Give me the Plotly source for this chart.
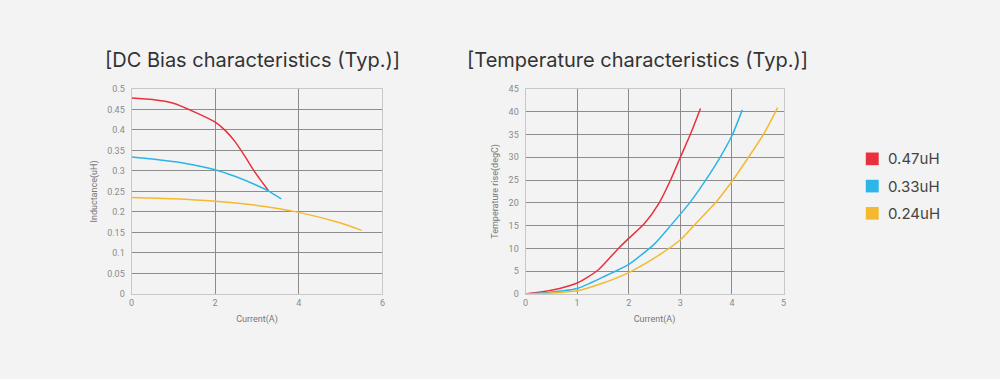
import plotly.graph_objects as go

# ---- data ----
names = ["0.47uH", "0.33uH", "0.24uH"]
colors = ["#e8313b", "#2bb5e8", "#f5b930"]

dc_x_047 = [0, 0.5, 1.0, 1.5, 2.0, 2.24, 2.47, 2.71, 2.95, 3.28]
dc_y_047 = [0.478, 0.474, 0.465, 0.444, 0.419, 0.399, 0.372, 0.336, 0.297, 0.251]
dc_x_033 = [0, 0.5, 1.2, 2.0, 2.47, 2.95, 3.28, 3.58]
dc_y_033 = [0.334, 0.329, 0.320, 0.303, 0.287, 0.267, 0.251, 0.232]
dc_x_024 = [0, 1.0, 2.0, 3.0, 4.0, 5.0, 5.5]
dc_y_024 = [0.235, 0.232, 0.226, 0.216, 0.199, 0.173, 0.155]

t_x_047 = [0, 0.5, 1.0, 1.4, 1.8, 2.0, 2.3, 2.59, 2.81, 3.0, 3.2, 3.39]
t_y_047 = [0, 0.8, 2.4, 5.2, 10.0, 12.2, 15.4, 20.0, 25.0, 30.0, 35.2, 40.7]
t_x_033 = [0, 0.5, 1.0, 1.5, 2.0, 2.5, 2.81, 3.18, 3.49, 3.77, 4.01, 4.2]
t_y_033 = [0, 0.4, 1.2, 3.7, 6.5, 11.0, 15.0, 20.0, 25.0, 30.0, 35.0, 40.4]
t_x_024 = [0, 0.5, 1.0, 1.5, 2.0, 2.5, 3.0, 3.26, 3.68, 4.02, 4.32, 4.61, 4.885]
t_y_024 = [0, 0.2, 0.7, 2.4, 4.7, 7.9, 11.9, 15.0, 20.0, 25.0, 30.0, 35.0, 40.9]

titles = ["[DC Bias characteristics (Typ.)]", "[Temperature characteristics (Typ.)]"]

W, H = 1000, 379
BG = "#f3f3f3"
GRID = "#8c8c8c"
TICKC = "#8a8a8a"

fig = go.Figure()

dc = [(dc_x_047, dc_y_047), (dc_x_033, dc_y_033), (dc_x_024, dc_y_024)]
tr = [(t_x_047, t_y_047), (t_x_033, t_y_033), (t_x_024, t_y_024)]
for i, (x, y) in enumerate(dc):
    fig.add_trace(go.Scatter(x=x, y=y, mode="lines", line=dict(color=colors[i], width=1.5, shape="spline", smoothing=0.6),
                             xaxis="x", yaxis="y", showlegend=False, hoverinfo="skip"))
for i, (x, y) in enumerate(tr):
    fig.add_trace(go.Scatter(x=x, y=y, mode="lines", line=dict(color=colors[i], width=1.5, shape="spline", smoothing=0.6),
                             xaxis="x2", yaxis="y2", showlegend=False, hoverinfo="skip"))

def px_x(p):
    return p / W

def px_y(p):
    return 1 - p / H

ydom = [px_y(296.8), px_y(86.2)]
axfont = dict(family="Roboto, Arial, sans-serif", size=9, color=TICKC)
titlefont = dict(family="Roboto, Arial, sans-serif", size=9, color="#777")
common_x = dict(showgrid=True, gridcolor=GRID, gridwidth=1.3, zeroline=False, showline=True, linecolor="#c8c8c8",
                linewidth=1, mirror=True, ticks="", tickfont=axfont)
common_y = dict(showgrid=True, gridcolor=GRID, gridwidth=1.3, zeroline=False, showline=True, linecolor="#c8c8c8",
                linewidth=1, mirror=True, ticks="", tickfont=axfont)

fig.update_layout(
    width=W, height=H,
    margin=dict(l=0, r=0, t=0, b=0),
    paper_bgcolor=BG, plot_bgcolor=BG,
    xaxis=dict(common_x, domain=[px_x(129.3), px_x(381.7)], range=[0, 6], dtick=2, anchor="y",
               title=dict(text="Current(A)", font=titlefont, standoff=8)),
    yaxis=dict(common_y, domain=ydom, range=[0, 0.5], dtick=0.05, anchor="x", ticklabelstandoff=4,
               title=dict(text="Inductance(uH)", font=titlefont, standoff=8)),
    xaxis2=dict(common_x, domain=[px_x(525.7), px_x(785.3)], range=[0, 5], dtick=1, anchor="y2",
                title=dict(text="Current(A)", font=titlefont, standoff=8)),
    yaxis2=dict(common_y, domain=ydom, range=[0, 45], dtick=5, anchor="x2", ticklabelstandoff=4,
                title=dict(text="Temperature rise(degC)", font=titlefont, standoff=8)),
)

# titles
title_x = [px_x(251), px_x(638)]
for t, xx in zip(titles, title_x):
    fig.add_annotation(text=t, x=xx, y=px_y(57), xref="paper", yref="paper", showarrow=False,
                       xanchor="center", yanchor="middle",
                       font=dict(family="Inter, Roboto, Arial, sans-serif", size=20, color="#333333"))

# legend
leg_y = [158, 186, 214]
for n, c, yy in zip(names, colors, leg_y):
    fig.add_shape(type="rect", xref="paper", yref="paper",
                  x0=px_x(868), x1=px_x(881), y0=px_y(yy + 6.5), y1=px_y(yy - 6.5),
                  fillcolor=c, line=dict(width=0))
    fig.add_annotation(text=n, x=px_x(888), y=px_y(yy), xref="paper", yref="paper", showarrow=False,
                       xanchor="left", yanchor="middle",
                       font=dict(family="Inter, Roboto, Arial, sans-serif", size=15, color="#444444"))

fig.write_html("out.html", config={"displayModeBar": False},
               post_script="document.body.style.margin='0';document.body.style.background='#f3f3f3';document.body.style.overflow='hidden';")
